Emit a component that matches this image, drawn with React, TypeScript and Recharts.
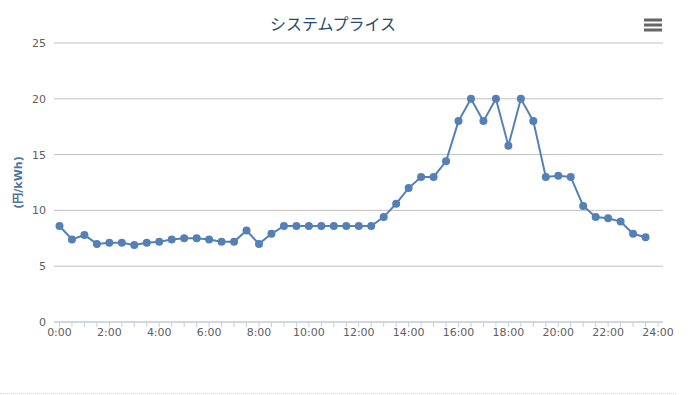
import React from 'react';
import { LineChart, Line, XAxis, YAxis, CartesianGrid, Label } from 'recharts';

const times: string[] = [
  '0:00', '0:30', '1:00', '1:30', '2:00', '2:30', '3:00', '3:30',
  '4:00', '4:30', '5:00', '5:30', '6:00', '6:30', '7:00', '7:30',
  '8:00', '8:30', '9:00', '9:30', '10:00', '10:30', '11:00', '11:30',
  '12:00', '12:30', '13:00', '13:30', '14:00', '14:30', '15:00', '15:30',
  '16:00', '16:30', '17:00', '17:30', '18:00', '18:30', '19:00', '19:30',
  '20:00', '20:30', '21:00', '21:30', '22:00', '22:30', '23:00', '23:30',
];

const prices: number[] = [
  8.6, 7.4, 7.8, 7.0, 7.1, 7.1, 6.9, 7.1,
  7.2, 7.4, 7.5, 7.5, 7.4, 7.2, 7.2, 8.2,
  7.0, 7.9, 8.6, 8.6, 8.6, 8.6, 8.6, 8.6,
  8.6, 8.6, 9.4, 10.6, 12.0, 13.0, 13.0, 14.4,
  18.0, 20.0, 18.0, 20.0, 15.8, 20.0, 18.0, 13.0,
  13.1, 13.0, 10.4, 9.4, 9.3, 9.0, 7.9, 7.6,
];

const xTicks: string[] = [
  '0:00', '0:30', '1:00', '1:30', '2:00', '2:30', '3:00', '3:30',
  '4:00', '4:30', '5:00', '5:30', '6:00', '6:30', '7:00', '7:30',
  '8:00', '8:30', '9:00', '9:30', '10:00', '10:30', '11:00', '11:30',
  '12:00', '12:30', '13:00', '13:30', '14:00', '14:30', '15:00', '15:30',
  '16:00', '16:30', '17:00', '17:30', '18:00', '18:30', '19:00', '19:30',
  '20:00', '20:30', '21:00', '21:30', '22:00', '22:30', '23:00', '23:30', '24:00',
];
const xLabels: string[] = ['0:00', '2:00', '4:00', '6:00', '8:00', '10:00', '12:00', '14:00', '16:00', '18:00', '20:00', '22:00', '24:00'];
const yTicks: number[] = [0, 5, 10, 15, 20, 25];

const title = 'システムプライス';
const yTitle = '(円/kWh)';

const toHours = (t: string) => {
  const [h, m] = t.split(':').map(Number);
  return h + m / 60;
};

const data = times.map((t, i) => ({ x: toHours(t), label: t, price: prices[i] }));
const tickValues = xTicks.map(toHours);
const labelHours = new Set(xLabels.map(toHours));

const fmtHour = (v: number) => {
  if (!labelHours.has(v)) return '';
  const h = Math.floor(v);
  return `${h}:00`;
};

const FONT = '"DejaVu Sans", Verdana, "Noto Sans CJK JP", sans-serif';
const SERIES = '#5480b6';

export default function App() {
  return (
    <div style={{ position: 'absolute', left: 0, top: 0, width: 689, height: 395, background: '#fff', fontFamily: FONT }}>
      <div
        style={{
          position: 'absolute',
          left: 233,
          width: 200,
          top: 12,
          textAlign: 'center',
          fontSize: 16,
          lineHeight: '22px',
          color: '#274b6d',
          fontFamily: '"Noto Sans CJK JP", sans-serif',
        }}
      >
        {title}
      </div>
      <svg style={{ position: 'absolute', left: 0, top: 0 }} width={689} height={60}>
        <rect x={644} y={18.5} width={18} height={3} fill="#666" />
        <rect x={644} y={23.5} width={18} height={3} fill="#666" />
        <rect x={644} y={28.5} width={18} height={3} fill="#666" />
      </svg>
      <div style={{ position: 'absolute', left: 0, top: 393, width: 676, borderTop: '1px dotted #d8d8e0' }} />
      <div style={{ position: 'absolute', left: 0, top: 0 }}>
        <LineChart width={689} height={395} data={data} margin={{ top: 43, right: 26, left: 0, bottom: 0 }}>
          <CartesianGrid horizontal vertical={false} stroke="#C0C0C0" />
          <XAxis
            dataKey="x"
            type="number"
            domain={[-0.22, 24.2]}
            ticks={tickValues}
            interval={0}
            tickFormatter={fmtHour}
            height={73}
            stroke="#C0D0E0"
            tickSize={5}
            tickMargin={1}
            allowDataOverflow
            tick={{ fill: '#606060', fontSize: 11, fontFamily: FONT }}
          />
          <YAxis
            type="number"
            domain={[0, 25]}
            ticks={yTicks}
            interval={0}
            width={54}
            axisLine={false}
            tickLine={false}
            tick={{ fill: '#606060', fontSize: 11, fontFamily: FONT }}
          >
            <Label
              value={yTitle}
              angle={-90}
              position="insideLeft"
              offset={18}
              style={{ fill: '#4d759e', fontSize: 11, fontWeight: 'bold', fontFamily: FONT, textAnchor: 'middle' }}
            />
          </YAxis>
          <Line
            type="linear"
            dataKey="price"
            stroke={SERIES}
            strokeWidth={2}
            dot={{ r: 4, fill: SERIES, stroke: SERIES, strokeWidth: 0 }}
            activeDot={false}
            isAnimationActive={false}
          />
        </LineChart>
      </div>
    </div>
  );
}
